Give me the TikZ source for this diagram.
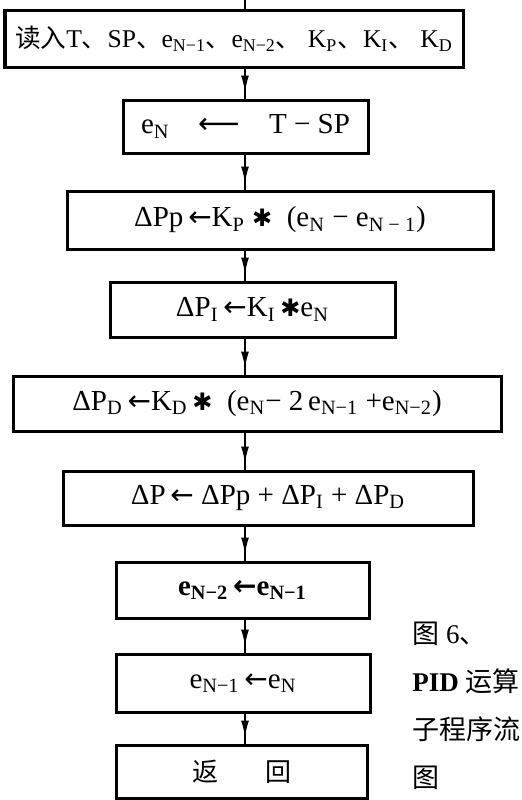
\documentclass[tikz,border=0pt]{standalone}
\usepackage{fontspec}
\setmainfont{Liberation Serif}
\newfontfamily\cjk{Noto Sans CJK SC}
\newfontfamily\symf{DejaVu Sans}
\usetikzlibrary{arrows.meta,decorations.markings}
\newcommand{\sbs}[1]{\textsubscript{#1}}
\newcommand{\dun}{{\cjk 、}}
\newcommand{\mul}{{\symf\fontsize{12}{14}\selectfont ✱}}
\newcommand{\lar}{{\symf\fontsize{14}{14}\selectfont ←}}
\tikzset{
  blk/.style={rectangle,draw=black,line width=1.5pt,inner sep=0pt,font=\fontsize{14.5}{16}\selectfont},
  flow/.style={line width=1pt,black,postaction={decorate},
    decoration={markings,mark=at position -3pt with {\arrow{Latex[length=8.5pt,width=4pt]}}}},
  capt/.style={anchor=north west,align=left,inner sep=0pt,font=\fontsize{13.5}{24}\selectfont},
}
\begin{document}
\begin{tikzpicture}[x=0.5pt,y=-0.5pt]
  \useasboundingbox (0,0) rectangle (521,800);
  \coordinate (top) at (245,0);
  \node[blk,minimum width=229pt,minimum height=28.5pt,font=\fontsize{12.8}{14}\selectfont](b1) at (234,38.5)
    {{\cjk 读入}T\dun SP\dun e\sbs{N−1}\dun e\sbs{N−2}\dun\ K\sbs{P}\dun K\sbs{I}\dun\ K\sbs{D}};
  \node[blk,minimum width=122.5pt,minimum height=26.5pt](b2) at (245.5,126.5)
    {e\sbs{N}\quad{\symf ⟵}\quad T − SP};
  \node[blk,minimum width=213pt,minimum height=29pt](b3) at (280,220)
    {ΔPp\,\lar K\sbs{P} \mul\ \ (e\sbs{N} − e\sbs{N − 1})\hspace{1em}};
  \node[blk,minimum width=142.5pt,minimum height=27.5pt](b4) at (252.5,309.5)
    {ΔP\sbs{I}\,\lar K\sbs{I}\,\mul e\sbs{N}};
  \node[blk,minimum width=244pt,minimum height=27.5pt](b5) at (257,403.5)
    {ΔP\sbs{D}\,\lar K\sbs{D}\,\mul\ \ (e\sbs{N}− 2\,e\sbs{N−1} +e\sbs{N−2})};
  \node[blk,minimum width=205pt,minimum height=27pt](b6) at (268,498)
    {ΔP\,\lar\ ΔPp + ΔP\sbs{I} + ΔP\sbs{D}\hspace{1.2em}};
  \node[blk,minimum width=126.5pt,minimum height=28pt,font=\fontsize{14.5}{16}\selectfont\bfseries](b7) at (242.5,590)
    {e\sbs{N−2}\,\lar e\sbs{N−1}};
  \node[blk,minimum width=127pt,minimum height=29pt](b8) at (243,683)
    {e\sbs{N−1}\,\lar e\sbs{N}\hspace{1.2em}};
  \node[blk,minimum width=125.5pt,minimum height=26.5pt,font=\fontsize{13}{15}\selectfont](b9) at (242,771.5)
    {\cjk 返\hspace{1.8em}回};
  \draw[line width=1pt] (top) -- (top |- b1.north);
  \foreach \a/\b in {b1/b2,b2/b3,b3/b4,b4/b5,b5/b6,b6/b7,b7/b8,b8/b9}
    {\draw[flow] (\a.south -| top) -- (\b.north -| top);}
  \node[capt](fig) at (412,622)
    {{\cjk 图} 6\dun\\\textbf{PID} {\cjk 运算}\\{\cjk 子程序流}\\{\cjk 图}};
\end{tikzpicture}
\end{document}
